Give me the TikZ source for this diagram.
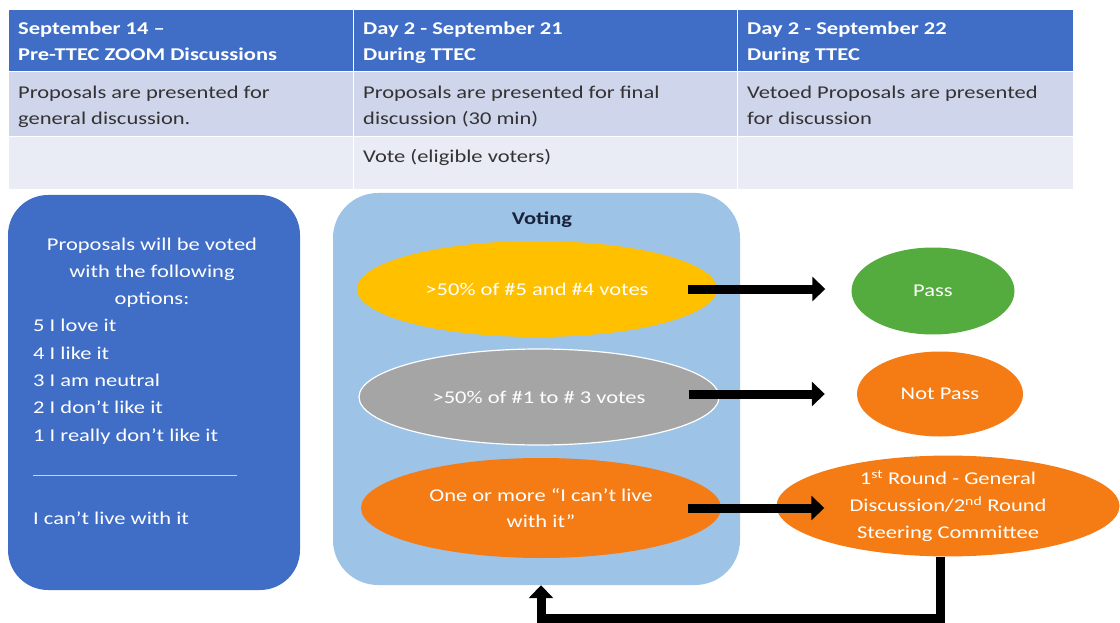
\documentclass[tikz,border=0pt]{standalone}
\usepackage{fontspec}
\setmainfont{Carlito}[FakeStretch=1.25]
\usetikzlibrary{shapes.geometric,arrows.meta,calc}
\definecolor{hdrblue}{RGB}{64,110,198}
\definecolor{rowa}{RGB}{207,213,234}
\definecolor{rowb}{RGB}{233,235,245}
\definecolor{voteblue}{RGB}{157,195,230}
\definecolor{yel}{RGB}{255,192,0}
\definecolor{gry}{RGB}{165,165,165}
\definecolor{org}{RGB}{245,124,20}
\definecolor{grn}{RGB}{84,172,62}
\definecolor{navy}{RGB}{25,35,60}
\tikzset{
  hdrcell/.style={fill=hdrblue, draw=white, line width=1pt},
  cella/.style={fill=rowa, draw=white, line width=1pt},
  cellb/.style={fill=rowb, draw=white, line width=1pt},
  celltext/.style={anchor=base west, align=left, inner sep=0pt, text=black!80, font=\fontsize{18}{26.5}\selectfont},
  hdrtext/.style={anchor=base west, align=left, inner sep=0pt, text=white, font=\fontsize{18}{26.5}\selectfont\bfseries},
  boxtext/.style={text=white, inner sep=0pt, font=\fontsize{18}{27.3}\selectfont},
  oval/.style={ellipse, text=white, align=center, inner sep=0pt, font=\fontsize{18}{26.5}\selectfont},
  bigarrow/.style={line width=9pt, -{Triangle[width=24pt,length=13pt]}},
  bigline/.style={line width=9pt},
}
\begin{document}
\begin{tikzpicture}[x=1pt,y=-1pt]
\useasboundingbox (0,0) rectangle (1120,623);
% table
\draw[hdrcell] (8,10) rectangle (353,72);
\draw[hdrcell] (353,10) rectangle (737,72);
\draw[hdrcell] (737,10) rectangle (1073,72);
\draw[cella] (8,72) rectangle (353,137);
\draw[cella] (353,72) rectangle (737,137);
\draw[cella] (737,72) rectangle (1073,137);
\draw[cellb] (8,137) rectangle (353,190);
\draw[cellb] (353,137) rectangle (737,190);
\draw[cellb] (737,137) rectangle (1073,190);
% multi-line nodes: base = baseline of last line
\node[hdrtext] (h1) at (18,61) {September 14 –\\Pre-TTEC ZOOM Discussions};
\node[hdrtext] (h2) at (363,61) {Day 2 - September 21\\During TTEC};
\node[hdrtext] (h3) at (747,61) {Day 2 - September 22\\During TTEC};
\node[celltext] (c1) at (18,125) {Proposals are presented for\\general discussion.};
\node[celltext] (c2) at (363,125) {Proposals are presented for final\\discussion (30 min)};
\node[celltext] (c3) at (747,125) {Vetoed Proposals are presented\\for discussion};
\node[celltext] (c4) at (363,163) {Vote (eligible voters)};
% left box
\fill[hdrblue, rounded corners=40pt] (8,195) rectangle (300,590);
\node[boxtext, align=center, anchor=base] (opt) at (152,304.6) {Proposals will be voted\\with the following\\options:};
\node[boxtext, align=left, anchor=base west] (list) at (33,441) {5 I love it\\4 I like it\\3 I am neutral\\2 I don’t like it\\1 I really don’t like it};
\draw[white!70!hdrblue, line width=0.8pt] (33,475) -- (237,475);
\node[boxtext, anchor=base west] (cant) at (33,524) {I can’t live with it};
% voting box
\node[fill=voteblue, rounded corners=45pt, minimum width=407pt, minimum height=392pt, inner sep=0pt] (vote) at (536.5,389) {};
\node[text=navy, font=\fontsize{18}{22}\selectfont\bfseries] (vtitle) at (542,220) {Voting};
\node[oval, fill=yel, minimum width=360pt, minimum height=96pt] (y) at (537,289) {>50\% of \#5 and \#4 votes};
\node[oval, fill=gry, draw=white, line width=1.2pt, minimum width=360pt, minimum height=96pt] (g) at (539,397) {>50\% of \#1 to \# 3 votes};
\node[oval, fill=org, minimum width=360pt, minimum height=100pt] (o) at (541,508) {One or more “I can’t live\\with it”};
% outcomes
\node[oval, fill=grn, minimum width=163pt, minimum height=87pt] (pass) at (933,291) {Pass};
\node[oval, fill=org, minimum width=166pt, minimum height=85pt] (npass) at (940,394) {Not Pass};
\node[oval, fill=org, minimum width=343pt, minimum height=98pt, font=\fontsize{18}{27}\selectfont] (round) at (948,506) {1\textsuperscript{st} Round - General\\Discussion/2\textsuperscript{nd} Round\\Steering Committee};
% arrows
\draw[bigarrow, shorten <=-29pt, shorten >=26pt] (y.east) -- (y.east -| pass.west);
\draw[bigarrow, shorten <=-31pt, shorten >=32pt] (g.east |- npass.west) -- (npass.west);
\draw[bigarrow, shorten <=-33pt, shorten >=-48pt] (o.east) -- (o.east -| round.west);
\coordinate (loopr) at (940,618);
\coordinate (loopl) at (541,618);
\draw[bigline] (loopr |- round.south) -- (loopr) -- (loopl);
\draw[bigarrow] ($(loopl)+(0,4.5)$) -- (loopl |- vote.south);
\end{tikzpicture}
\end{document}
